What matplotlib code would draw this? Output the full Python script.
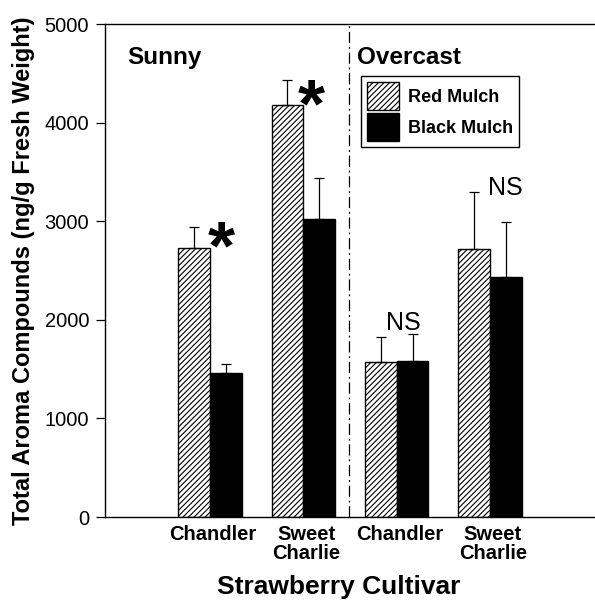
import matplotlib
matplotlib.use("Agg")
import matplotlib.pyplot as plt
from matplotlib.patches import Patch
import numpy as np

plt.rcParams['font.family'] = ['Liberation Sans', 'DejaVu Sans']
plt.rcParams['hatch.linewidth'] = 0.8

cultivars = ["Chandler", "Sweet\nCharlie", "Chandler", "Sweet\nCharlie"]
red_mulch = [2730, 4180, 1570, 2715]
red_err = [215, 255, 260, 585]
black_mulch = [1463, 3022, 1585, 2434]
black_err = [85, 416, 268, 555]
marks = ["*", "*", "NS", "NS"]
panels = ["Sunny", "Overcast"]
series = ["Red Mulch", "Black Mulch"]

fig = plt.figure(figsize=(5.95, 6.0), dpi=100)
ax = fig.add_axes([0.1765, 0.1383, 0.8235, 0.8217])

x = np.arange(len(cultivars))
w = 0.34
ax.bar(x - w/2, red_mulch, w, facecolor='white', edgecolor='black', hatch='//////', linewidth=1.0)
ax.bar(x + w/2, black_mulch, w, facecolor='black', edgecolor='black', linewidth=1.0)
ax.errorbar(x - w/2, red_mulch, yerr=[np.zeros(4), red_err], fmt='none', ecolor='black',
            elinewidth=0.9, capsize=3.6, capthick=0.9)
ax.errorbar(x + w/2, black_mulch, yerr=[np.zeros(4), black_err], fmt='none', ecolor='black',
            elinewidth=0.9, capsize=3.6, capthick=0.9)

ax.set_xlim(-1.125, 4.125)
ax.set_ylim(0, 5000)
ax.set_yticks([0, 1000, 2000, 3000, 4000, 5000])
ax.tick_params(axis='y', direction='out', length=6.5, width=0.9, labelsize=14.5, pad=5)
ax.set_xticks(x + 0.03)
ax.set_xticklabels(cultivars, fontsize=14.5, fontweight='bold', linespacing=0.95)
ax.tick_params(axis='x', length=0, pad=6)

ax.spines['right'].set_visible(False)
for s in ['left', 'top', 'bottom']:
    ax.spines[s].set_linewidth(1.0)

ax.axvline(1.49, color='black', linestyle=(0, (9, 3, 1.5, 3)), linewidth=0.9)

ax.text(0.045, 0.955, panels[0], transform=ax.transAxes, fontsize=17.5, fontweight='bold', va='top', ha='left')
ax.text(0.515, 0.955, panels[1], transform=ax.transAxes, fontsize=17.5, fontweight='bold', va='top', ha='left')

# significance marks
ax.text(x[0] - 0.02, 2518, marks[0], fontsize=50, fontweight='bold', ha='left', va='baseline')
ax.text(x[1] - 0.064, 3958, marks[1], fontsize=50, fontweight='bold', ha='left', va='baseline')
ax.text(x[2] + 0.07, 1900, marks[2], fontsize=18, ha='center', va='baseline')
ax.text(x[3] + 0.165, 3266, marks[3], fontsize=18, ha='center', va='baseline')

ax.set_ylabel("Total Aroma Compounds (ng/g Fresh Weight)", fontsize=17, fontweight='bold')
ax.yaxis.set_label_coords(-0.143, 0.5)
ax.set_xlabel("Strawberry Cultivar", fontsize=19, fontweight='bold')
ax.xaxis.set_label_coords((339 - 105) / 490, -0.118)

handles = [Patch(facecolor='white', edgecolor='black', hatch='//////', linewidth=1.0),
           Patch(facecolor='black', edgecolor='black', linewidth=1.0)]
leg = ax.legend(handles, series, loc='upper left', bbox_to_anchor=(0.522, 0.8945),
                borderaxespad=0, fancybox=False, edgecolor='black', framealpha=1,
                prop={'weight': 'bold', 'size': 13}, handlelength=1.8, handleheight=2.0,
                labelspacing=0.17, handletextpad=0.5, borderpad=0.33)
leg.get_frame().set_linewidth(1.0)

fig.savefig("out.png", dpi=100)
